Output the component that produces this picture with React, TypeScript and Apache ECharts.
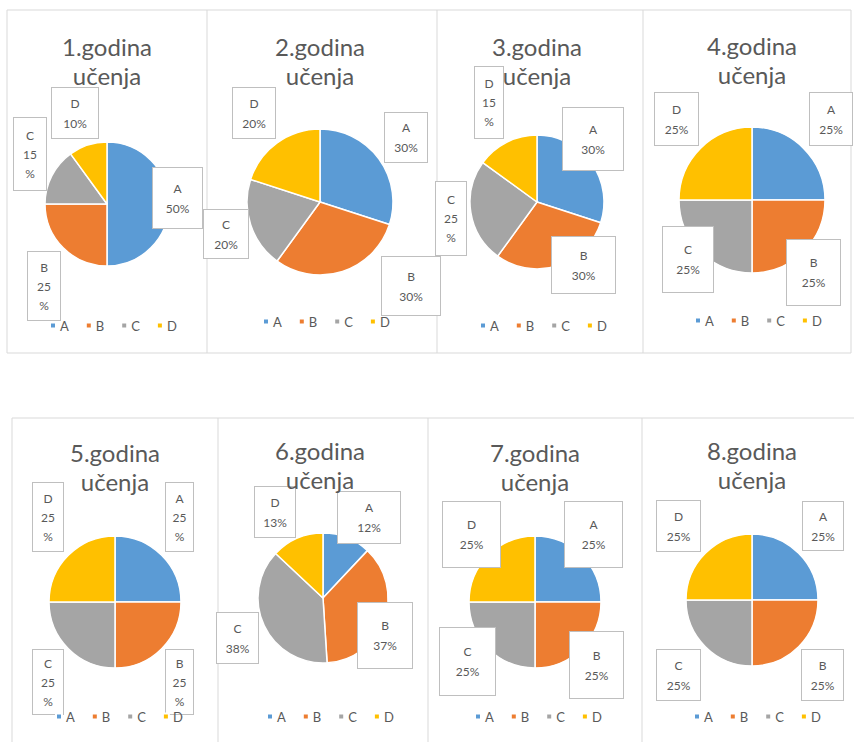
import React, { useEffect, useRef } from "react";
import * as echarts from "echarts";

const categories = ["A", "B", "C", "D"];
const panelTitles = [
  "1.godina\nučenja",
  "2.godina\nučenja",
  "3.godina\nučenja",
  "4.godina\nučenja",
  "5.godina\nučenja",
  "6.godina\nučenja",
  "7.godina\nučenja",
  "8.godina\nučenja",
];
const year1 = [50, 25, 15, 10];
const year2 = [30, 30, 20, 20];
const year3 = [30, 30, 25, 15];
const year4 = [25, 25, 25, 25];
const year5 = [25, 25, 25, 25];
const year6 = [12, 37, 38, 13];
const year7 = [25, 25, 25, 25];
const year8 = [25, 25, 25, 25];
const yearValues = [year1, year2, year3, year4, year5, year6, year7, year8];

const colors = ["#5B9BD5", "#ED7D31", "#A5A5A5", "#FFC000"];
const textColor = "#595959";
const fontFamily = "Lato, 'Open Sans', sans-serif";

// [titleX, titleTop, pieX, pieY, radius, legendX, legendY]
const panelLayout = [
  [107, 32, 107, 204, 62, 111, 327],
  [320, 32, 320, 202, 73, 324, 323],
  [537, 32, 537, 202, 67, 541, 327],
  [752, 31, 752, 200, 73, 756, 322],
  [115, 438, 115, 602, 66, 117, 718],
  [320, 436, 323, 598, 65, 328, 718],
  [535, 438, 535, 602, 66, 536, 718],
  [752, 436, 752, 600, 66, 755, 718],
];

// label boxes per panel, per category: [cx, cy, w, h, wrapPercent]
const labelBoxes = [
  [[177.5, 198, 49, 60, 0], [44, 286, 32, 68, 1], [30, 154, 32, 72, 1], [75, 113, 46, 50, 0]],
  [[406, 137.5, 42, 49, 0], [411, 286, 58, 58, 0], [226, 234, 44, 48, 0], [254, 113, 42, 50, 0]],
  [[593, 139, 60, 62, 0], [583.5, 265, 63, 56, 0], [451, 218.5, 30, 73, 1], [489, 102.5, 28, 71, 1]],
  [[831, 119, 42, 52, 0], [813.5, 272.5, 53, 65, 0], [688, 259.5, 50, 65, 0], [676.5, 119, 43, 52, 0]],
  [[179.5, 517, 27, 68, 1], [179.5, 682, 27, 64, 1], [48, 682, 30, 64, 1], [48, 517, 30, 68, 1]],
  [[369, 517.5, 62, 51, 0], [385, 635.5, 54, 65, 0], [237.5, 638, 41, 50, 0], [275, 512, 40, 50, 0]],
  [[593.5, 534.5, 57, 65, 0], [596.5, 665, 53, 66, 0], [467.5, 661.5, 55, 67, 0], [471.5, 534.5, 57, 65, 0]],
  [[823, 526, 40, 48, 0], [822.5, 675, 41, 50, 0], [678.5, 675, 43, 50, 0], [678.5, 526, 43, 50, 0]],
];

// panel frame lines: [x1, y1, x2, y2]
const frameLines = [
  [7, 10, 851, 10],
  [7, 353, 851, 353],
  [7, 10, 7, 353],
  [207, 10, 207, 353],
  [437, 10, 437, 353],
  [643, 10, 643, 353],
  [851, 10, 851, 353],
  [12, 418, 854, 418],
  [12, 418, 12, 742],
  [218, 418, 218, 742],
  [428, 418, 428, 742],
  [642, 418, 642, 742],
];

export default function App() {
  const ref = useRef<HTMLDivElement>(null);

  useEffect(() => {
    if (!ref.current) return;
    const chart = echarts.init(ref.current, undefined, { renderer: "svg" });

    const series = yearValues.map((vals, si) => {
      const [, , px, py, r] = panelLayout[si];
      return {
        type: "pie",
        name: panelTitles[si],
        center: [px, py],
        radius: r,
        startAngle: 90,
        clockwise: true,
        avoidLabelOverlap: false,
        itemStyle: { borderColor: "#ffffff", borderWidth: 1.5 },
        labelLine: { show: false },
        emphasis: { disabled: true },
        label: {
          show: true,
          position: "inside",
          color: textColor,
          fontSize: 12,
          fontFamily,
          backgroundColor: "#ffffff",
          borderColor: "#bfbfbf",
          borderWidth: 1,
          formatter: (p: any) => {
            const wrap = labelBoxes[p.seriesIndex][p.dataIndex][4];
            return wrap ? `${p.name}\n${p.value}\n%` : `${p.name}\n${p.value}%`;
          },
        },
        labelLayout: (p: any) => {
          const b = labelBoxes[p.seriesIndex][p.dataIndex];
          return { x: b[0], y: b[1], align: "center", verticalAlign: "middle" };
        },
        data: categories.map((c, ci) => {
          const b = labelBoxes[si][ci];
          const lines = b[4] ? 3 : 2;
          const lh = b[4] ? 19 : 20;
          const pv = Math.max(0, (b[3] - lines * lh) / 2);
          return {
            name: c,
            value: vals[ci],
            itemStyle: { color: colors[ci] },
            label: { width: b[2], lineHeight: lh, padding: [pv, 0, pv, 0] },
          };
        }),
      };
    });

    const option = {
      animation: false,
      backgroundColor: "#ffffff",
      color: colors,
      title: panelLayout.map((l, i) => ({
        text: panelTitles[i],
        left: l[0],
        top: l[1],
        textAlign: "center",
        padding: 0,
        textStyle: {
          color: textColor,
          fontSize: 24,
          fontWeight: "normal",
          fontFamily,
          lineHeight: 29,
        },
      })),
      legend: panelLayout.map((l) => ({
        data: categories,
        left: l[5] - 62,
        top: l[6] - 8,
        icon: "rect",
        itemWidth: 6,
        itemHeight: 6,
        itemGap: 16,
        padding: 0,
        selectedMode: false,
        textStyle: { color: textColor, fontSize: 13, fontFamily, padding: [0, 0, 0, -1] },
      })),
      graphic: frameLines.map((f) => ({
        type: "line",
        silent: true,
        z: -1,
        shape: { x1: f[0], y1: f[1], x2: f[2], y2: f[3] },
        style: { stroke: "#d9d9d9", lineWidth: 1 },
      })),
      series,
    };

    chart.setOption(option as any);
    return () => chart.dispose();
  }, []);

  return (
    <div
      ref={ref}
      style={{ position: "absolute", left: 0, top: 0, width: 854, height: 742 }}
    />
  );
}
